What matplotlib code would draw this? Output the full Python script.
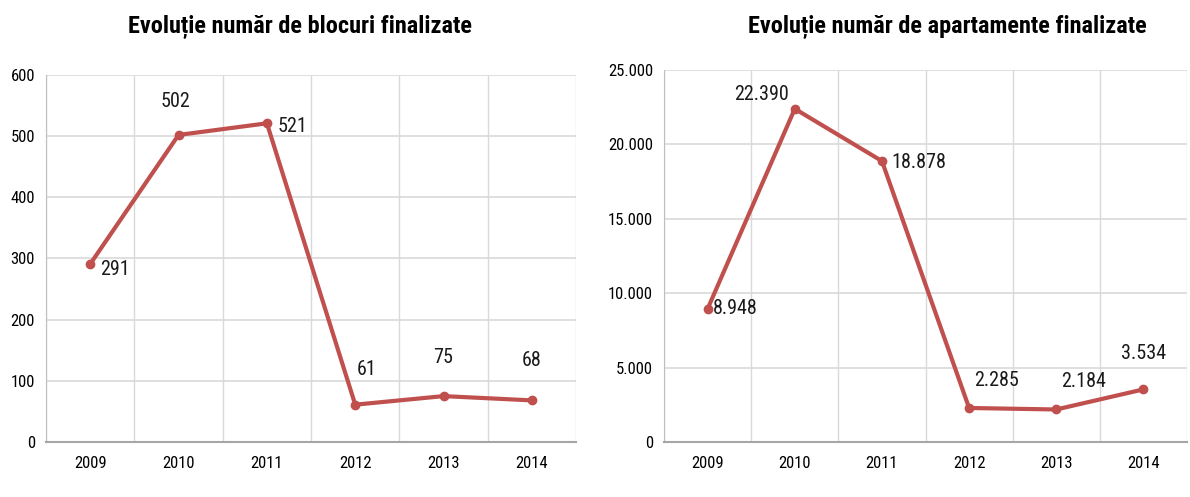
import matplotlib
matplotlib.use("Agg")
import matplotlib.pyplot as plt
from matplotlib import font_manager as fm

years = ["2009", "2010", "2011", "2012", "2013", "2014"]
blocuri = [291, 502, 521, 61, 75, 68]
apartamente = [8948, 22390, 18878, 2285, 2184, 3534]
title_left = "Evoluție număr de blocuri finalizate"
title_right = "Evoluție număr de apartamente finalizate"
yticks_left = [0, 100, 200, 300, 400, 500, 600]
yticks_right = [0, 5000, 10000, 15000, 20000, 25000]

fonts = {}
for f in fm.fontManager.ttflist:
    fonts.setdefault(f.name, set()).add(f.weight if isinstance(f.weight, int) else 400)

prefs = ["Roboto Condensed", "Open Sans Condensed", "PT Sans Narrow", "Fira Sans Condensed",
         "Archivo Narrow", "Sofia Sans Condensed", "Asap Condensed", "Carlito", "Liberation Sans"]
def pick(bold):
    for p in prefs:
        if p in fonts and (not bold or max(fonts[p]) >= 700):
            return p
    return "DejaVu Sans"
fam = pick(False)
fam_b = pick(True)

def fmt(v):
    return f"{v:,}".replace(",", ".")

LINE = "#C0504D"
GRID = "#D9D9D9"

fig = plt.figure(figsize=(11.9, 4.97), dpi=100)
ax1 = fig.add_axes([0.0387, 0.1107, 0.4454, 0.7384])
ax2 = fig.add_axes([0.558, 0.1107, 0.4395, 0.7485])

def setup(ax, vals, yticks, title, tx, offsets, tfmt):
    x = list(range(len(years)))
    ax.plot(x, vals, color=LINE, lw=3, marker="o", ms=6, zorder=3)
    ax.set_xlim(-0.5, len(years) - 0.5)
    ax.set_ylim(yticks[0], yticks[-1])
    ax.set_yticks(yticks)
    ax.set_yticklabels([tfmt(t) for t in yticks], family=fam, fontsize=12)
    ax.set_xticks(x)
    ax.set_xticklabels(years, family=fam, fontsize=12)
    ax.tick_params(axis="x", length=0, pad=10)
    ax.tick_params(axis="y", length=0, pad=8)
    for b in [i + 0.5 for i in range(-1, len(years))]:
        ax.axvline(b, color=GRID, lw=1, zorder=1)
    for t in yticks[1:]:
        ax.axhline(t, color=GRID, lw=1.2, zorder=1)
    for s in ["top", "right"]:
        ax.spines[s].set_visible(False)
    ax.spines["left"].set_color("#BFBFBF")
    ax.spines["bottom"].set_color("#A6A6A6")
    ax.spines["bottom"].set_linewidth(1.5)
    for xi, v, (dx, dy, ha) in zip(x, vals, offsets):
        ax.annotate(fmt(v), (xi, v), xytext=(dx, dy), textcoords="offset points",
                    ha=ha, va="center", fontsize=14.5, family=fam, color="#1a1a1a")
    fig.text(tx, 0.945, title, ha="center", va="center", fontsize=17.5,
             fontweight="bold", family=fam_b)

off1 = [(7, -4, "left"), (-2, 24, "center"), (8, -2, "left"),
        (8, 25, "center"), (0, 28, "center"), (0, 29, "center")]
off2 = [(4, 0, "left"), (-24, 10, "center"), (7, -1, "left"),
        (20, 20, "center"), (20, 20, "center"), (0, 26, "center")]
setup(ax1, blocuri, yticks_left, title_left, 300 / 1190, off1, lambda t: str(t))
setup(ax2, apartamente, yticks_right, title_right, 947 / 1190, off2, fmt)

fig.savefig("out.png", dpi=100)
